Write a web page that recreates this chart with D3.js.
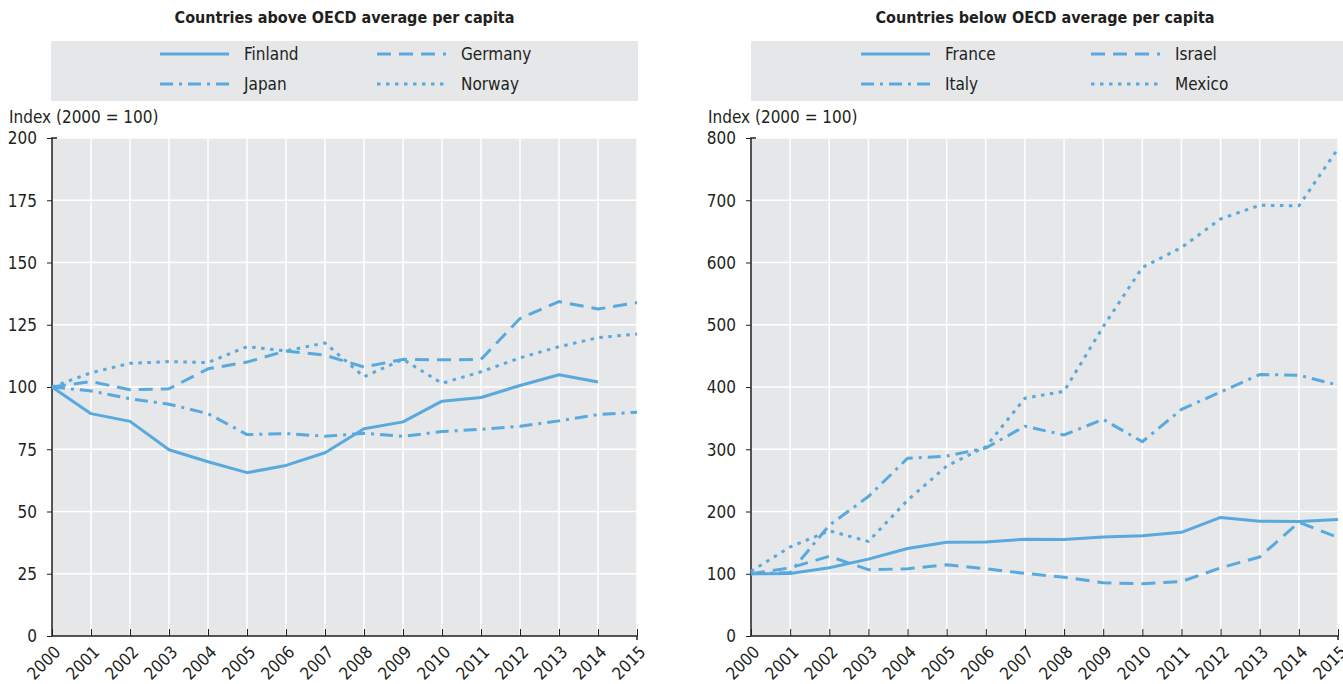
<!DOCTYPE html>
<html>
<head>
<meta charset="utf-8">
<script src="https://cdn.jsdelivr.net/npm/d3@7"></script>
<style>
  body { margin: 0; background: #fff; }
  text { font-family: "DejaVu Sans Condensed", "Liberation Sans Narrow", "Arial Narrow", sans-serif; fill: #231f20; }
</style>
</head>
<body>
<svg id="chart" width="1343" height="684"></svg>
<script>
// years on the x axis
const years = d3.range(2000, 2016);

// left panel: above OECD average
const finland = [100, 89.3, 86.2, 74.8, 70, 65.6, 68.5, 73.6, 83.2, 86, 94.3, 95.8, 100.6, 104.9, 102];
const germany = [100, 102.2, 98.9, 99.3, 107.3, 110, 114.5, 112.8, 108, 111.1, 110.9, 111.1, 127.5, 134.3, 131.3, 133.9];
const japan   = [100, 98.4, 95.3, 93.1, 89.3, 80.9, 81.3, 80.2, 81.4, 80.2, 82.1, 83, 84.2, 86.4, 88.9, 89.9];
const norway  = [100, 105.7, 109.5, 110.2, 109.8, 116.2, 114.5, 117.7, 104.1, 111.1, 101.5, 106.1, 111.7, 116.2, 119.8, 121.3];

// right panel: below OECD average
const france = [100, 100.5, 109.5, 123.5, 140.5, 150.5, 151, 155.5, 155, 159, 161, 166.5, 190.5, 184.5, 184, 187];
const israel = [100, 109.5, 128, 106.5, 108, 114.5, 108, 100.5, 94.5, 85.5, 84, 87.5, 109.5, 127, 182.5, 158.5];
const italy  = [100, 102, 178, 224, 285.5, 289, 302, 337, 323, 348, 312, 364, 392, 420, 419, 403];
const mexico = [104, 143, 169, 152, 218, 273, 304, 382, 393, 497, 592, 624, 670, 692, 691, 783];

const leftTicks = [0, 25, 50, 75, 100, 125, 150, 175, 200];
const rightTicks = [0, 100, 200, 300, 400, 500, 600, 700, 800];

const color = "#58a9dd";
const dashStyles = { solid: null, dash: "14,8", dashdot: "13,6,3,6", dot: "3.5,5.5" };

const panels = [
  {
    title: "Countries above OECD average per capita",
    x0: 52, x1: 637, box: [51, 638], ymax: 200, ticks: leftTicks,
    series: [
      { name: "Finland", values: finland, style: "solid" },
      { name: "Germany", values: germany, style: "dash" },
      { name: "Japan", values: japan, style: "dashdot" },
      { name: "Norway", values: norway, style: "dot" }
    ],
    legendX: [160, 377]
  },
  {
    title: "Countries below OECD average per capita",
    x0: 751, x1: 1338, box: [751, 1343], ymax: 800, ticks: rightTicks,
    series: [
      { name: "France", values: france, style: "solid" },
      { name: "Israel", values: israel, style: "dash" },
      { name: "Italy", values: italy, style: "dashdot" },
      { name: "Mexico", values: mexico, style: "dot" }
    ],
    legendX: [861, 1091]
  }
];

const svg = d3.select("#chart");
const plotTop = 138, plotBottom = 636;

panels.forEach(p => {
  const g = svg.append("g");
  const x = d3.scaleLinear().domain([2000, 2015]).range([p.x0, p.x1]);
  const y = d3.scaleLinear().domain([0, p.ymax]).range([plotBottom, plotTop]);

  // title
  g.append("text")
    .attr("x", (p.box[0] + p.box[1]) / 2 + (p.box[1] === 1343 ? -2 : 0))
    .attr("y", 23)
    .attr("text-anchor", "middle")
    .style("font-weight", "bold")
    .style("font-size", "16px")
    .text(p.title);

  // legend box
  g.append("rect")
    .attr("x", p.box[0]).attr("y", 41)
    .attr("width", p.box[1] - p.box[0]).attr("height", 60)
    .attr("fill", "#e6e7e9");

  p.series.forEach((s, i) => {
    const lx = p.legendX[i % 2];
    const ly = i < 2 ? 54 : 84;
    g.append("line")
      .attr("x1", lx).attr("x2", lx + 69)
      .attr("y1", ly).attr("y2", ly)
      .attr("stroke", color).attr("stroke-width", 3)
      .attr("stroke-dasharray", dashStyles[s.style]);
    g.append("text")
      .attr("x", lx + 84).attr("y", ly + 6)
      .style("font-size", "17px")
      .text(s.name);
  });

  // axis title
  g.append("text")
    .attr("x", p.x0 - 43).attr("y", 123)
    .style("font-size", "17px")
    .text("Index (2000 = 100)");

  // plot background
  g.append("rect")
    .attr("x", p.x0).attr("y", plotTop)
    .attr("width", p.x1 - p.x0).attr("height", plotBottom - plotTop)
    .attr("fill", "#e6e7e9");

  // grid
  g.selectAll(".hgrid").data(p.ticks.slice(1)).join("line")
    .attr("x1", p.x0).attr("x2", p.x1)
    .attr("y1", d => y(d)).attr("y2", d => y(d))
    .attr("stroke", "#fff").attr("stroke-width", 1.5);
  g.selectAll(".vgrid").data(years.slice(1)).join("line")
    .attr("x1", d => x(d)).attr("x2", d => x(d))
    .attr("y1", plotTop).attr("y2", plotBottom)
    .attr("stroke", "#fff").attr("stroke-width", 1.5);

  // y axis
  const yAxis = d3.axisLeft(y).tickValues(p.ticks).tickSize(5).tickPadding(10);
  const ya = g.append("g").attr("transform", `translate(${p.x0},0)`).call(yAxis);
  ya.select(".domain").attr("stroke", "#231f20").attr("stroke-width", 1.5).attr("d", `M5,${plotTop}H0V${plotBottom}`);
  ya.selectAll(".tick line").attr("stroke", "#231f20");
  ya.selectAll(".tick text").style("font-size", "17px").attr("fill", "#231f20").attr("dy", "0.35em");

  // x axis
  const xAxis = d3.axisBottom(x).tickValues(years).tickFormat(d3.format("d")).tickSize(0);
  const xa = g.append("g").attr("transform", `translate(0,${plotBottom})`).call(xAxis);
  xa.select(".domain").attr("stroke", "#231f20").attr("stroke-width", 1.5).attr("d", `M${p.x0},0H${p.x1}V4`);
  xa.selectAll(".tick").append("line")
    .attr("y1", 0).attr("y2", -7)
    .attr("stroke", "#231f20").attr("stroke-width", 1);
  xa.selectAll(".tick text")
    .style("font-size", "17px").attr("fill", "#231f20")
    .attr("text-anchor", "end")
    .attr("transform", "translate(5,13) rotate(-45)")
    .attr("x", 0).attr("y", 0).attr("dy", "0.35em");

  // lines
  const line = d3.line().x((d, i) => x(years[i])).y(d => y(d));
  p.series.forEach(s => {
    g.append("path")
      .datum(s.values)
      .attr("d", line)
      .attr("fill", "none")
      .attr("stroke", color)
      .attr("stroke-width", 3)
      .attr("stroke-linejoin", "round")
      .attr("stroke-dasharray", dashStyles[s.style]);
  });
});
</script>
</body>
</html>
